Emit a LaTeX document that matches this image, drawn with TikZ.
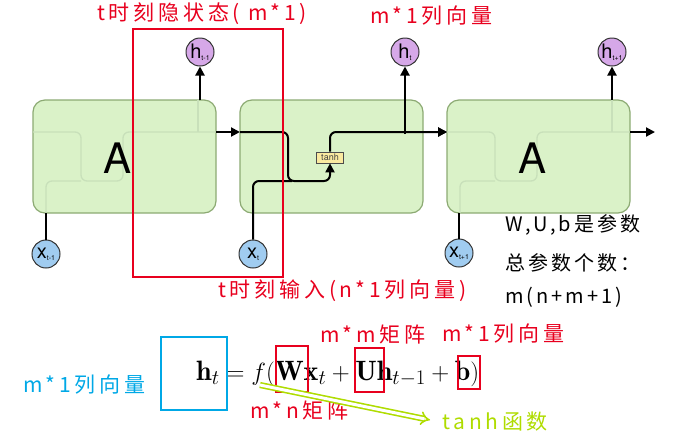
\documentclass[tikz,border=0pt]{standalone}
\usepackage{fontspec}
\usepackage{amsmath}
\newfontfamily\hand[LetterSpace=18]{Noto Sans CJK SC}
\newfontfamily\handb[LetterSpace=15]{Noto Sans CJK SC}
\newfontfamily\heros{TeX Gyre Heros}
\usetikzlibrary{arrows.meta}
\definecolor{cellfill}{RGB}{218,242,200}
\definecolor{celldraw}{RGB}{140,170,115}
\definecolor{faint}{RGB}{200,224,186}
\definecolor{hfill}{RGB}{214,168,232}
\definecolor{xfill}{RGB}{160,204,240}
\definecolor{annred}{RGB}{232,0,30}
\definecolor{annblue}{RGB}{0,168,230}
\definecolor{ygreen}{RGB}{175,220,0}
\definecolor{tanhfill}{RGB}{250,234,160}
\tikzset{
  cell/.style={draw=celldraw, fill=cellfill, line width=1.2pt, rounded corners=12pt, minimum width=183pt, minimum height=113pt, inner sep=0pt},
  hcirc/.style={circle, draw=black!80, fill=hfill, line width=1pt, minimum size=28pt, inner sep=0pt, font=\heros},
  xcirc/.style={circle, draw=black!80, fill=xfill, line width=1pt, minimum size=28pt, inner sep=0pt, font=\heros},
  flow/.style={line width=2pt, rounded corners=6pt},
  arr/.style={-{Triangle[length=9pt,width=9pt]}},
  ghost/.style={draw=faint, line width=1.3pt, rounded corners=6pt},
  tanhbox/.style={draw=black!70, fill=tanhfill, line width=0.7pt, inner sep=0pt, minimum width=27pt, minimum height=11pt, text=black!75, font=\heros\fontsize{9}{9}\selectfont},
  bigA/.style={font=\heros\fontsize{42}{42}\selectfont},
  ann/.style={anchor=west, inner sep=0pt, font=\hand\fontsize{21}{21}\selectfont},
  annb/.style={anchor=west, inner sep=0pt, font=\handb\fontsize{20}{20}\selectfont},
  redbox/.style={draw=annred, line width=1.6pt},
}
\newcommand{\clab}[2]{{\fontsize{20}{20}\selectfont #1}\raisebox{-2pt}{\fontsize{7}{7}\selectfont #2}}
\begin{document}
\begin{tikzpicture}[x=1pt,y=-1pt]
\useasboundingbox (0,0) rectangle (684,445);
% cells
\node[cell] (A1) at (124.5,156.5) {};
\node[cell] (A2) at (331.5,156.5) {};
\node[cell] (A3) at (538.5,156.5) {};
% faint internal lines
\draw[ghost] (33,132) -- (81,132) -- (81,181) -- (123,181) -- (123,132) -- (216,132);
\draw[ghost] (46,213) -- (46,181) -- (81,181);
\draw[ghost] (198,100) -- (198,132);
\draw[ghost] (447,132) -- (495,132) -- (495,181) -- (537,181) -- (537,132) -- (630,132);
\draw[ghost] (460,213) -- (460,181) -- (495,181);
\draw[ghost] (612,100) -- (612,132);
% A labels
\node[bigA] (LA1) at (118,158) {A};
\node[bigA] (LA3) at (532,158) {A};
% circles
\node[hcirc] (h1) at (200,52) {\clab{h}{t-1}};
\node[hcirc] (h2) at (405,52) {\clab{h}{t}};
\node[hcirc] (h3) at (612,52) {\clab{h}{t+1}};
\node[xcirc] (x1) at (46,254) {\clab{x}{t-1}};
\node[xcirc] (x2) at (253,254) {\clab{x}{t}};
\node[xcirc] (x3) at (459,253) {\clab{x}{t+1}};
% tanh
\node[tanhbox] (tanh) at (330,157.5) {tanh};
% coordinates
\coordinate (a1e) at (216,132);
\coordinate (a2w) at (240,132);
\coordinate (a2e) at (423,132);
\coordinate (a3w) at (447,132);
\coordinate (a3e) at (630,132);
\coordinate (out) at (655,132);
\coordinate (a1n) at (200,100);
\coordinate (a3n) at (612,100);
\coordinate (a1s) at (46,213);
\coordinate (a3s) at (459,213);
% connectors
\draw[flow,arr] (a1e) -- (a2w);
\draw[flow,arr] (a2e) -- (a3w);
\draw[flow,arr] (a3e) -- (out);
\draw[flow,arr] (a1n) -- (h1);
\draw[flow,arr] (a3n) -- (h3);
\draw[flow] (x1) -- (a1s);
\draw[flow] (x3) -- (a3s);
\draw[flow,arr] (a2w) -- (288,132) -- (288,181) -- (330,181) -- (tanh.south);
\draw[flow] (x2) -- (253,181) -- (292,181);
\draw[flow,arr] (tanh.north) -- (330,132) -- (a3w);
\draw[flow,arr] (405,134) -- (h2);
% red annotations
\draw[redbox] (133,29) rectangle (283,277);
\node[ann, text=annred] (t1) at (97,14) {t时刻隐状态( m*1)};
\node[ann, text=annred] (t2) at (370,16) {m*1列向量};
\node[ann, text=annred] (t3) at (218,291) {t时刻输入(n*1列向量)};
% black notes
\node[annb] (n1) at (505,225) {W,U,b是参数};
\node[annb] (n2) at (505,263) {总参数个数：};
\node[annb] (n3) at (505,297) {m(n+m+1)};
% formula
\node[anchor=base west, inner sep=0pt, font=\fontsize{28}{32}\selectfont] (eq) at (196,380) {$\mathbf{h}_t = f(\mathbf{W}\mathbf{x}_t + \mathbf{U}\mathbf{h}_{t-1} + \mathbf{b})$};
\draw[draw=annblue, line width=1.6pt] (161,337) rectangle (227,410);
\node[ann, text=annblue] (b1) at (23,385) {m*1列向量};
\draw[redbox] (276,346) rectangle (308,392);
\draw[redbox] (355,348) rectangle (384,392);
\draw[redbox] (458,356) rectangle (480,389);
\node[ann, text=annred] (r1) at (320,334) {m*m矩阵};
\node[ann, text=annred] (r2) at (442,334) {m*1列向量};
\node[ann, text=annred] (r3) at (250,410) {m*n矩阵};
\coordinate (fpt) at (260,385);
\coordinate (ftip) at (430,420);
\draw[draw=ygreen, line width=1.6pt, double, double distance=3pt, -{Implies[length=9pt,width=20pt]}] (fpt) -- (ftip);
\node[ann, text=ygreen] (g1) at (442,422) {tanh函数};
\end{tikzpicture}
\end{document}
